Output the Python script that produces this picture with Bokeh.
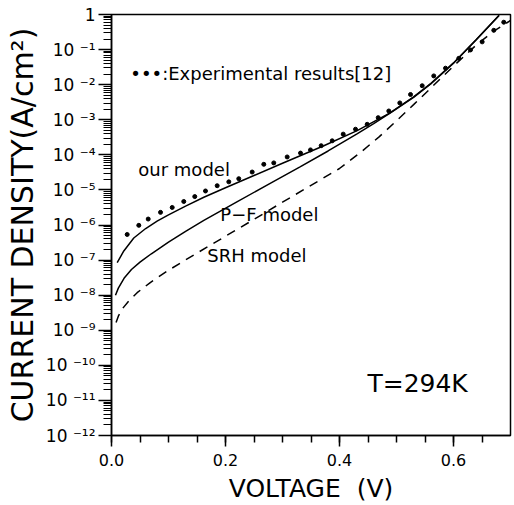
from bokeh.plotting import figure
from bokeh.models import (Range1d, FixedTicker, SingleIntervalTicker, CustomJSTickFormatter, Label)
from bokeh.embed import file_html
from bokeh.resources import INLINE

# ---------------- data ----------------
exp_v = [0.0275, 0.0479, 0.0644, 0.0860, 0.1065, 0.1268, 0.1461, 0.1649, 0.1854, 0.2058,
         0.2233, 0.2468, 0.2672, 0.2847, 0.3082, 0.3316, 0.3491, 0.3679, 0.3872, 0.4065,
         0.4281, 0.4486, 0.4679, 0.4865, 0.5058, 0.5246, 0.5451, 0.5654, 0.5860, 0.6093,
         0.6298, 0.6503, 0.6707, 0.6882]
exp_log_j = [-6.27, -6.01, -5.83, -5.64, -5.50, -5.33, -5.19, -5.03, -4.88, -4.77,
             -4.68, -4.49, -4.27, -4.23, -4.06, -3.95, -3.86, -3.74, -3.60, -3.41,
             -3.27, -3.13, -2.94, -2.75, -2.52, -2.28, -2.03, -1.75, -1.53, -1.25,
             -1.01, -0.78, -0.45, -0.22]

our_v = [0.010, 0.0216, 0.0391, 0.06, 0.08, 0.10, 0.13, 0.162, 0.20, 0.25,
         0.30, 0.3725, 0.431, 0.488, 0.53, 0.56, 0.60, 0.64, 0.68]
our_log_j = [-7.07, -6.74, -6.37, -6.10, -5.89, -5.71, -5.46, -5.21, -4.94, -4.59,
             -4.24, -3.74, -3.31, -2.81, -2.35, -1.97, -1.38, -0.71, -0.02]

pf_v = [0.007, 0.012, 0.022, 0.035, 0.05, 0.07, 0.10, 0.13, 0.162, 0.22,
        0.28, 0.33, 0.38, 0.43, 0.46, 0.49, 0.53, 0.56, 0.60, 0.64, 0.68]
pf_log_j = [-8.00, -7.80, -7.52, -7.27, -7.06, -6.82, -6.49, -6.18, -5.87, -5.34,
            -4.80, -4.35, -3.89, -3.41, -3.11, -2.80, -2.36, -1.98, -1.39, -0.72, -0.03]

srh_v = [0.008, 0.012, 0.019, 0.03, 0.045, 0.068, 0.10, 0.15, 0.20, 0.25,
         0.30, 0.35, 0.40, 0.44, 0.47, 0.50, 0.53, 0.56, 0.60, 0.64, 0.67, 0.70]
srh_log_j = [-8.78, -8.60, -8.39, -8.17, -7.93, -7.64, -7.29, -6.80, -6.32, -5.84,
             -5.35, -4.87, -4.39, -3.89, -3.48, -3.03, -2.57, -2.10, -1.47, -0.87, -0.48, -0.17]

y_tick_labels = ["1", "10 \u207b\u00b9", "10 \u207b\u00b2", "10 \u207b\u00b3", "10 \u207b\u2074",
                 "10 \u207b\u2075", "10 \u207b\u2076", "10 \u207b\u2077", "10 \u207b\u2078",
                 "10 \u207b\u2079", "10 \u207b\u00b9\u2070", "10 \u207b\u00b9\u00b9",
                 "10 \u207b\u00b9\u00b2"]
x_label = "VOLTAGE\u00a0 (V)"
y_label = "CURRENT DENSITY(A/cm\u00b2)"

FONT = "DejaVu Sans"

def tolin(logs):
    return [10.0 ** v for v in logs]

p = figure(width=514, height=505,
           x_range=Range1d(0, 0.7), y_range=Range1d(1e-12, 1),
           y_axis_type="log", output_backend="svg", toolbar_location=None,
           min_border_left=111, min_border_right=4, min_border_top=14, min_border_bottom=65)

p.background_fill_color = "white"
p.border_fill_color = "white"
p.outline_line_color = "black"
p.outline_line_width = 1.5
p.xgrid.visible = False
p.ygrid.visible = False

# axes
xa = p.xaxis[0]
xa.ticker = SingleIntervalTicker(interval=0.2, num_minor_ticks=4)
xa.formatter = CustomJSTickFormatter(code="return tick.toFixed(1);")
xa.major_tick_in = 0
xa.major_tick_out = 11
xa.minor_tick_in = 0
xa.minor_tick_out = 7
xa.axis_line_width = 1.5
xa.major_tick_line_width = 1.5
xa.minor_tick_line_width = 1.5
xa.major_label_text_font = FONT
xa.major_label_text_font_size = "16px"
xa.major_label_text_color = "black"
xa.major_label_standoff = 7
xa.axis_label = x_label
xa.axis_label_text_font = FONT
xa.axis_label_text_font_size = "25px"
xa.axis_label_text_font_style = "normal"
xa.axis_label_text_color = "black"
xa.axis_label_standoff = 5

decades = [10.0 ** (-k) for k in range(0, 13)]
minors = [m * 10.0 ** (-k) for k in range(1, 13) for m in range(2, 10)]
ya = p.yaxis[0]
ya.ticker = FixedTicker(ticks=decades, minor_ticks=minors)
ya.formatter = CustomJSTickFormatter(args=dict(labels=y_tick_labels),
                                     code="const e = Math.round(-Math.log10(tick)); return labels[e];")
ya.major_tick_in = 0
ya.major_tick_out = 13
ya.minor_tick_in = 0
ya.minor_tick_out = 8
ya.axis_line_width = 1.5
ya.major_tick_line_width = 1.5
ya.minor_tick_line_width = 1.2
ya.major_label_text_font = FONT
ya.major_label_text_font_size = "17px"
ya.major_label_text_color = "black"
ya.major_label_standoff = 3
ya.axis_label = y_label
ya.axis_label_text_font = FONT
ya.axis_label_text_font_size = "30px"
ya.axis_label_text_font_style = "normal"
ya.axis_label_text_color = "black"
ya.axis_label_standoff = 3

# curves
p.line(our_v, tolin(our_log_j), line_color="black", line_width=1.5)
p.line(pf_v, tolin(pf_log_j), line_color="black", line_width=1.5)
p.line(srh_v, tolin(srh_log_j), line_color="black", line_width=1.5, line_dash="9 7")
p.scatter(exp_v, tolin(exp_log_j), marker="circle", size=4, fill_color="black", line_color="black")

# text labels
def add_label(x, y, text, size):
    p.add_layout(Label(x=x, y=y, text=text, text_font=FONT, text_font_size=size,
                       text_color="black", text_baseline="middle", text_align="left"))

add_label(0.033, 10 ** -1.69, "\u2022\u2022\u2022:Experimental results[12]", "18px")
add_label(0.047, 10 ** -4.42, "our  model", "18px")
add_label(0.191, 10 ** -5.69, "P\u2212F model", "18px")
add_label(0.168, 10 ** -6.87, "SRH  model", "18px")
add_label(0.449, 10 ** -10.52, "T=294K", "25px")

open("out.html", "w").write(file_html(p, INLINE))
